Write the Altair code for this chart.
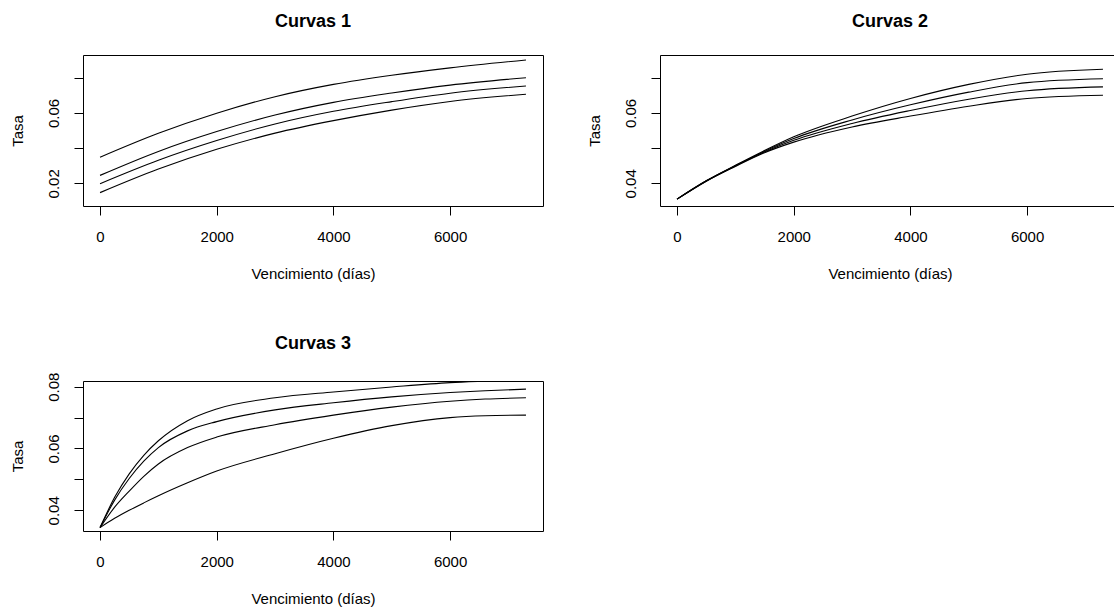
import altair as alt
import pandas as pd

FONT = "Liberation Sans"

# ---------------- data ----------------
# Curvas 1
dias1 = [0, 1000, 2000, 3000, 4000, 5000, 6000, 7300]
c1_a = [0.0348, 0.0484, 0.0598, 0.0692, 0.0762, 0.0814, 0.0856, 0.0901]
c1_b = [0.0245, 0.0381, 0.0494, 0.0588, 0.0660, 0.0713, 0.0758, 0.0800]
c1_c = [0.0198, 0.0331, 0.0443, 0.0537, 0.0609, 0.0664, 0.0712, 0.0753]
c1_d = [0.0147, 0.0281, 0.0393, 0.0485, 0.0556, 0.0616, 0.0665, 0.0706]

# Curvas 2
dias2 = [0, 500, 1000, 1500, 2000, 3000, 4000, 5000, 6000, 7300]
c2_a = [0.0355, 0.0407, 0.0451, 0.0493, 0.0532, 0.0591, 0.0641, 0.0681, 0.0710, 0.0724]
c2_b = [0.0355, 0.0407, 0.0450, 0.0491, 0.0527, 0.0580, 0.0623, 0.0659, 0.0686, 0.0697]
c2_c = [0.0355, 0.0406, 0.0449, 0.0489, 0.0522, 0.0570, 0.0607, 0.0639, 0.0663, 0.0674]
c2_d = [0.0355, 0.0406, 0.0448, 0.0487, 0.0517, 0.0560, 0.0591, 0.0619, 0.0641, 0.0650]

# Curvas 3
dias3 = [0, 250, 500, 750, 1000, 1500, 2000, 3000, 4000, 5000, 6000, 6600, 7300]
c3_a = [0.0344, 0.0442, 0.0518, 0.0578, 0.0625, 0.0690, 0.0728, 0.0764, 0.0783, 0.0799, 0.0813, 0.0818, 0.0823]
c3_b = [0.0344, 0.0433, 0.0503, 0.0559, 0.0603, 0.0657, 0.0687, 0.0725, 0.0748, 0.0767, 0.0781, 0.0787, 0.0792]
c3_c = [0.0344, 0.0410, 0.0462, 0.0510, 0.0550, 0.0603, 0.0637, 0.0677, 0.0708, 0.0734, 0.0753, 0.0760, 0.0764]
c3_d = [0.0344, 0.0374, 0.0400, 0.0424, 0.0447, 0.0489, 0.0527, 0.0583, 0.0633, 0.0674, 0.0700, 0.0706, 0.0708]

x_ticks = [0, 2000, 4000, 6000]
x_domain = [-292, 7592]

y1_ticks = [0.02, 0.04, 0.06, 0.08]
y1_labels = [0.02, 0.06]
y1_domain = [0.0071, 0.0929]

y2_ticks = [0.04, 0.05, 0.06, 0.07]
y2_labels = [0.04, 0.06]
y2_domain = [0.03355, 0.07645]

y3_ticks = [0.04, 0.05, 0.06, 0.07, 0.08]
y3_labels = [0.04, 0.06, 0.08]
y3_domain = [0.0333, 0.08184]


def long_df(dias, curves):
    rows = []
    for name, vals in curves.items():
        for d, v in zip(dias, vals):
            rows.append({"dias": d, "tasa": v, "curva": name})
    return pd.DataFrame(rows)


def panel(df, title, ydom, yticks, ylabels, w, h, title_offset):
    label_list = ",".join(str(v) for v in ylabels)
    expr = (f"indexof([{label_list}], round(datum.value*100)/100) >= 0 "
            f"? format(datum.value, '.2f') : ''")
    return alt.Chart(df).mark_line(
        color="black", strokeWidth=1.1, interpolate="monotone", clip=True
    ).encode(
        x=alt.X("dias:Q",
                scale=alt.Scale(domain=x_domain, nice=False, zero=False),
                axis=alt.Axis(values=x_ticks, format="d",
                              title="Vencimiento (días)",
                              labelBaseline="alphabetic", labelAlign="center",
                              labelPadding=26.4,
                              titleX=w / 2, titleY=72,
                              titleAlign="center", titleBaseline="alphabetic")),
        y=alt.Y("tasa:Q",
                scale=alt.Scale(domain=ydom, nice=False, zero=False),
                axis=alt.Axis(values=yticks, labelExpr=expr, title="Tasa",
                              labelAngle=270, labelAlign="center",
                              labelBaseline="alphabetic", labelPadding=15.6,
                              titleAngle=270, titleX=-61, titleY=h / 2,
                              titleAlign="center", titleBaseline="alphabetic")),
        detail="curva:N",
        order="dias:Q",
    ).properties(
        width=w, height=h,
        title=alt.TitleParams(text=title, anchor="middle", frame="group",
                              baseline="alphabetic", offset=title_offset),
    )


df1 = long_df(dias1, {"a": c1_a, "b": c1_b, "c": c1_c, "d": c1_d})
df2 = long_df(dias2, {"a": c2_a, "b": c2_b, "c": c2_c, "d": c2_d})
df3 = long_df(dias3, {"a": c3_a, "b": c3_b, "c": c3_c, "d": c3_d})

p1 = panel(df1, "Curvas 1", y1_domain, y1_ticks, y1_labels, 460, 151, 10)
p2 = panel(df2, "Curvas 2", y2_domain, y2_ticks, y2_labels, 460, 151, 10)
p3 = panel(df3, "Curvas 3", y3_domain, y3_ticks, y3_labels, 460, 150, 5)

chart = alt.concat(
    p1, p2, p3, columns=2, spacing={"row": 175, "column": 117}, bounds="flush"
).properties(
    autosize=alt.AutoSizeParams(type="none"),
    padding={"left": 83, "top": 55, "right": 1031, "bottom": 554},
    background="white",
).configure_view(
    stroke="black", strokeWidth=1
).configure_axis(
    grid=False, domain=False, tickColor="black", tickSize=9, tickWidth=1,
    labelFont=FONT, labelFontSize=15, labelColor="black",
    titleFont=FONT, titleFontSize=15, titleColor="black",
    titleFontWeight="normal", labelOverlap=False, labelFlush=False,
).configure_title(
    font=FONT, fontSize=18, fontWeight="bold", color="black"
)

chart.save("out.html", embed_options={"renderer": "svg", "actions": False})
